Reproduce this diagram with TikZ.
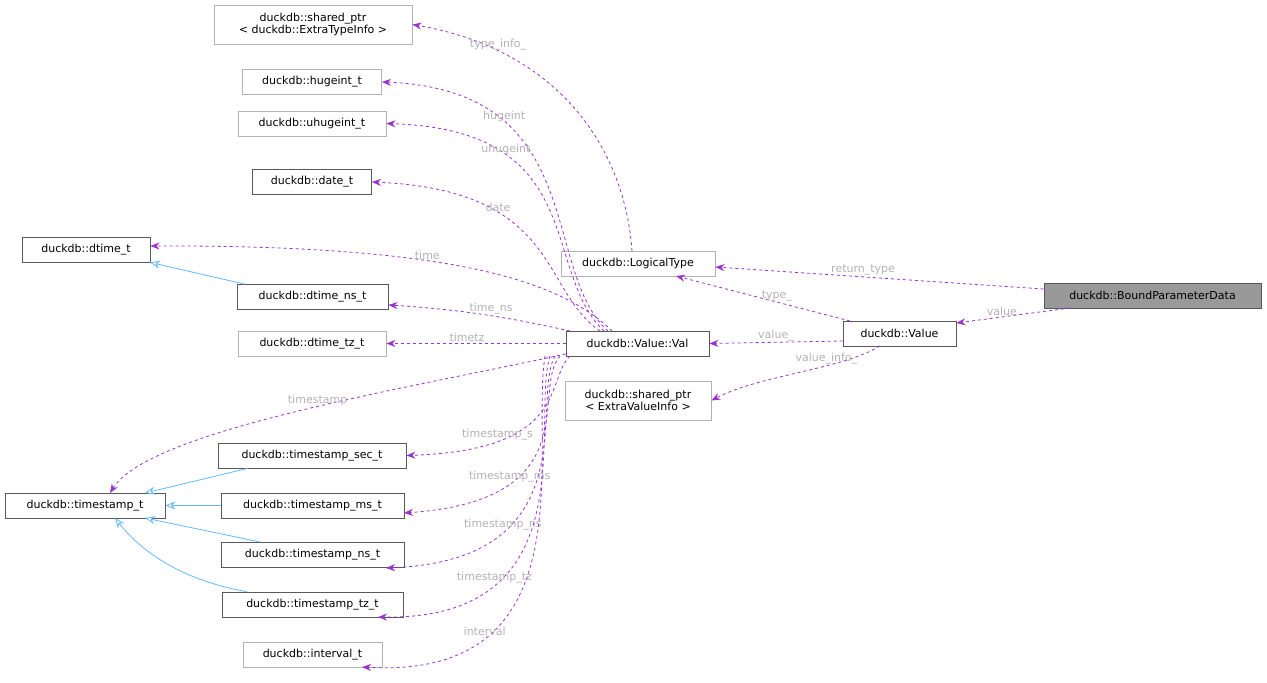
\documentclass[tikz,border=0pt]{standalone}
\usepackage{fontspec}
\setmainfont{DejaVu Sans}
\usetikzlibrary{arrows.meta}
\begin{document}
\begin{tikzpicture}[x=1pt,y=-1pt,
  box/.style={draw=#1,fill=white,inner sep=0pt,minimum height=25pt,align=center,font=\fontsize{11}{12.5}\selectfont,line width=0.8pt},
  box/.default={black!65},
  gbox/.style={box=black!30},
  mem/.style={draw={rgb,255:red,154;green,50;blue,205},dashed,line width=0.8pt,-{Stealth[length=9pt,width=7pt]}},
  inh/.style={draw={rgb,255:red,99;green,184;blue,255},line width=0.8pt,-{Stealth[length=10pt,width=8pt,fill=white]}},
  lab/.style={text=black!30,font=\fontsize{11}{12}\selectfont,inner sep=1pt}]
\useasboundingbox (0,0) rectangle (1267,683);
\node[gbox,minimum width=198pt,minimum height=39pt] (sti) at (313,24.5) {duckdb::shared\_ptr\\< duckdb::ExtraTypeInfo >};
\node[gbox,minimum width=139pt] (huge) at (312,82) {duckdb::hugeint\_t};
\node[gbox,minimum width=148pt] (uhuge) at (312,123.5) {duckdb::uhugeint\_t};
\node[box,minimum width=119pt] (date) at (312,182) {duckdb::date\_t};
\node[box,minimum width=128pt] (dtime) at (86,249.5) {duckdb::dtime\_t};
\node[gbox,minimum width=154pt] (lt) at (638,263.5) {duckdb::LogicalType};
\node[box,fill={rgb,255:red,153;green,153;blue,153},minimum width=217pt] (bpd) at (1152.5,295.5) {duckdb::BoundParameterData};
\node[box,minimum width=151pt] (dns) at (312.5,297) {duckdb::dtime\_ns\_t};
\node[box,minimum width=113pt] (val) at (899.5,333.5) {duckdb::Value};
\node[gbox,minimum width=148pt] (dtz) at (312,343.5) {duckdb::dtime\_tz\_t};
\node[box,minimum width=143pt] (vv) at (637.5,343.5) {duckdb::Value::Val};
\node[gbox,minimum width=146pt,minimum height=39pt] (svi) at (638,400.5) {duckdb::shared\_ptr\\< ExtraValueInfo >};
\node[box,minimum width=188pt] (tsec) at (312,455.5) {duckdb::timestamp\_sec\_t};
\node[box,minimum width=160pt] (ts) at (85,505.5) {duckdb::timestamp\_t};
\node[box,minimum width=183pt] (tms) at (312.5,505.5) {duckdb::timestamp\_ms\_t};
\node[box,minimum width=183pt] (tns) at (312.5,555) {duckdb::timestamp\_ns\_t};
\node[box,minimum width=181pt] (ttz) at (312.5,604.5) {duckdb::timestamp\_tz\_t};
\node[gbox,minimum width=139pt] (intv) at (312.5,654.5) {duckdb::interval\_t};
% inheritance
\draw[inh] (dns.north west)++(8,0) -- (dtime.south -| 150,0) ;
\draw[inh] (tsec.south west)++(30,0) -- (145,493);
\draw[inh] (tms.west) -- (ts.east);
\draw[inh] (tns.north west)++(40,0) -- (145,518);
\draw[inh] (ttz.north west)++(25,0) .. controls (180,580) and (140,550) .. (115,518);
% members
\draw[mem] (bpd.west |- 0,289) -- node[lab,above,pos=0.55]{return\_type} (lt.east |- 0,267);
\draw[mem] (1070,308) -- node[lab,above,pos=0.6]{value} (val.east |- 0,323);
\draw[mem] (850,321) -- node[lab,above,pos=0.42]{type\_} (676,276);
\draw[mem] (val.west |- 0,341) -- node[lab,above,pos=0.5]{value\_} (vv.east);
\draw[mem] (880,346) .. controls (840,370) and (760,375) .. node[lab,above,pos=0.35]{value\_info\_} (svi.east);
\draw[mem] (632,251) .. controls (625,150) and (560,50) .. node[lab,pos=0.78,above]{type\_info\_} (sti.east);
\draw[mem] (608,331) .. controls (540,270) and (590,90) .. node[lab,pos=0.72,above]{hugeint} (huge.east);
\draw[mem] (604,331) .. controls (540,270) and (590,130) .. node[lab,pos=0.72,above]{uhugeint} (uhuge.east);
\draw[mem] (600,331) .. controls (540,290) and (560,190) .. node[lab,pos=0.68,above]{date} (date.east);
\draw[mem] (612,331) .. controls (560,280) and (450,245) .. node[lab,pos=0.6,above]{time} (dtime.east |- 0,246);
\draw[mem] (570,331) .. controls (520,320) and (470,310) .. node[lab,pos=0.5,above]{time\_ns} (dns.east |- 0,305);
\draw[mem] (vv.west) -- node[lab,pos=0.55,above]{timetz} (dtz.east);
\draw[mem] (vv.west |- 0,354) .. controls (400,390) and (150,430) .. node[lab,pos=0.45,above]{timestamp} (110,493);
\draw[mem] (570,356) .. controls (545,380) and (570,450) .. node[lab,pos=0.75,above]{timestamp\_s} (tsec.east);
\draw[mem] (560,356) .. controls (530,390) and (590,500) .. node[lab,pos=0.72,above]{timestamp\_ms} (404,513);
\draw[mem] (555,356) .. controls (530,400) and (590,560) .. node[lab,pos=0.72,above]{timestamp\_ns} (386,568);
\draw[mem] (550,356) .. controls (530,420) and (590,620) .. node[lab,pos=0.74,above]{timestamp\_tz} (378,617);
\draw[mem] (545,356) .. controls (530,450) and (590,680) .. node[lab,pos=0.75,above]{interval} (362,667);
\end{tikzpicture}
\end{document}
